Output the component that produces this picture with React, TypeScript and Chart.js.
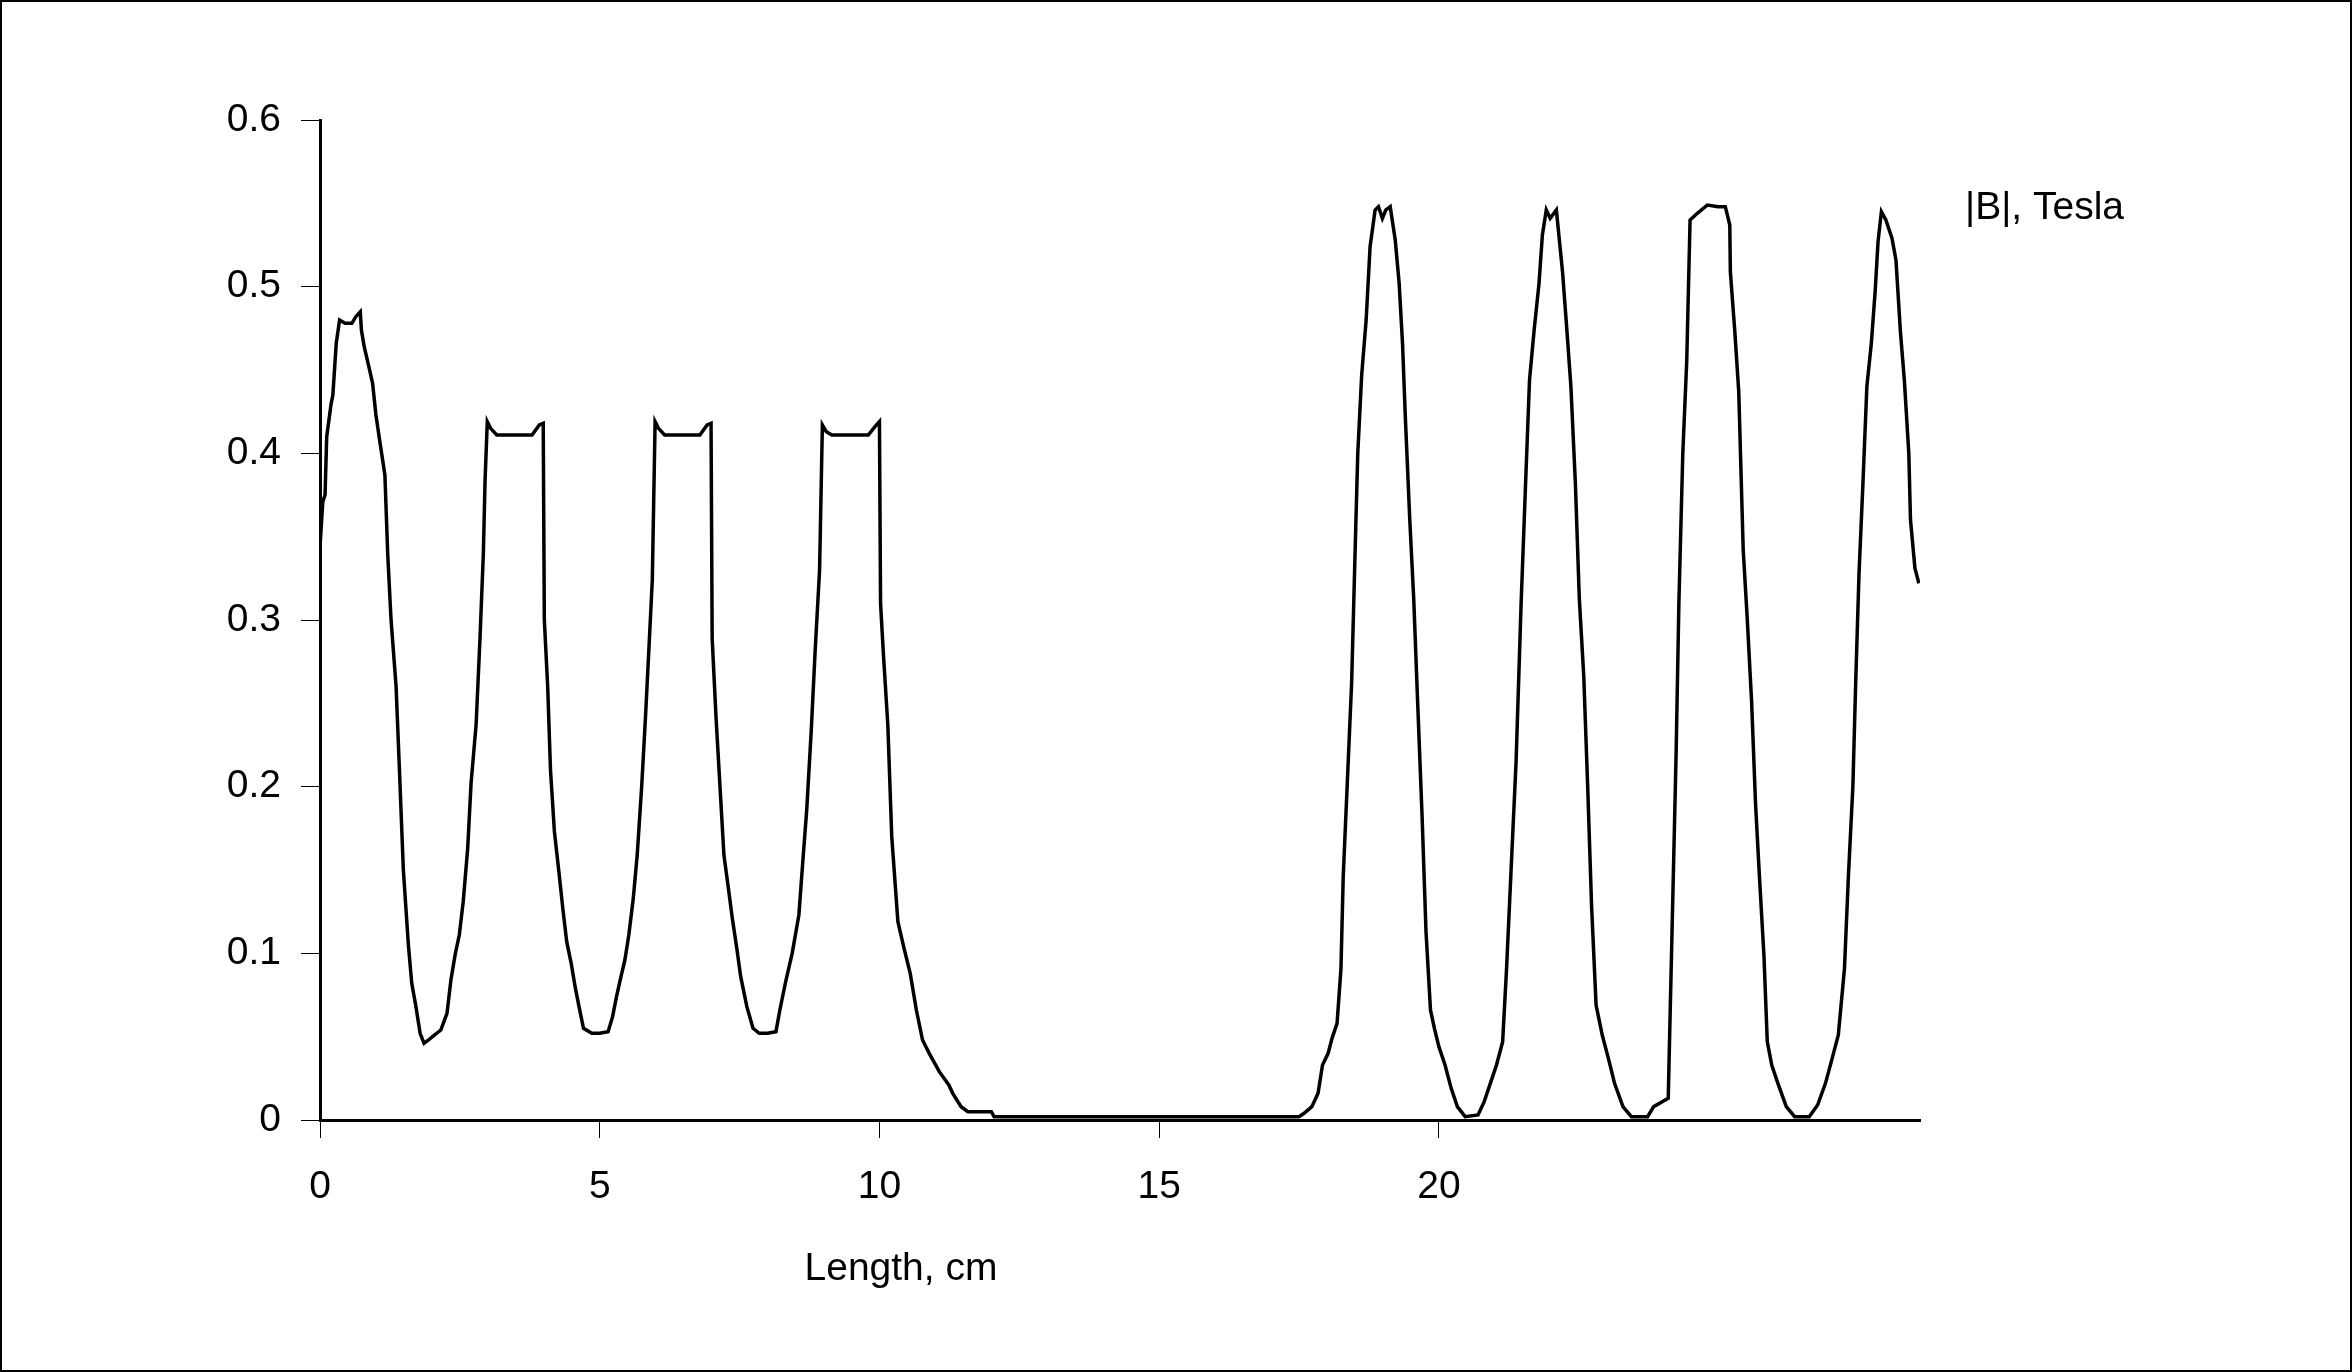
import React, { useEffect, useRef } from "react";
import { Chart, registerables } from "chart.js";

Chart.register(...registerables);

// Length along the device, cm
const lengthCm: number[] = [
  0.0, 0.05, 0.09, 0.12, 0.2, 0.23, 0.29, 0.35, 0.45, 0.57, 0.64, 0.72, 0.74, 0.79, 0.86, 0.94,
  1.0, 1.07, 1.16, 1.21, 1.27, 1.36, 1.42, 1.49, 1.58, 1.64, 1.71, 1.79, 1.86, 1.94,
  2.01, 2.16, 2.27, 2.34, 2.42, 2.49, 2.56, 2.64, 2.7, 2.79, 2.86, 2.92, 2.95, 2.99,
  3.05, 3.16, 3.5, 3.79, 3.92, 3.99,
  4.01, 4.07, 4.12, 4.19, 4.27, 4.34, 4.41, 4.49, 4.56, 4.63, 4.71, 4.86,
  5.0, 5.15, 5.23, 5.3, 5.38, 5.45, 5.52, 5.6, 5.67, 5.75, 5.82, 5.89, 5.94, 5.99,
  6.05, 6.16, 6.5, 6.79, 6.92, 6.99,
  7.01, 7.08, 7.15, 7.22, 7.3, 7.37, 7.45, 7.52, 7.63, 7.74, 7.85,
  8.0, 8.15, 8.22, 8.33, 8.44, 8.56, 8.63, 8.7, 8.78, 8.85, 8.93, 8.98,
  9.05, 9.15, 9.5, 9.8, 9.92, 10.0,
  10.02, 10.07, 10.15, 10.22, 10.33, 10.44, 10.55, 10.66, 10.77, 10.89,
  11.07, 11.24, 11.31, 11.46, 11.58, 12.0, 12.05,
  13.0, 14.0, 15.0, 16.0, 17.0, 17.5,
  17.59, 17.73, 17.84, 17.92, 18.02, 18.09, 18.18, 18.25, 18.29, 18.36, 18.44, 18.5, 18.55,
  18.62, 18.7, 18.77, 18.86, 18.92, 18.99, 19.05, 19.13, 19.22, 19.29, 19.35, 19.4, 19.48,
  19.55, 19.62, 19.7, 19.77, 19.85, 19.92, 20.0, 20.11, 20.22, 20.33, 20.47, 20.7, 20.81,
  20.92, 21.03, 21.14, 21.21, 21.3, 21.38, 21.47, 21.55, 21.62, 21.7, 21.79, 21.85, 21.92,
  21.99, 22.1, 22.21, 22.29, 22.36, 22.44, 22.51, 22.59, 22.66, 22.73, 22.81, 22.92, 23.03,
  23.14, 23.29, 23.44, 23.73, 23.84, 24.1, 24.14, 24.19, 24.24, 24.29, 24.36, 24.43, 24.49,
  24.62, 24.8, 24.99, 25.12, 25.2, 25.21, 25.29, 25.36, 25.44, 25.51, 25.59, 25.66, 25.73,
  25.81, 25.87, 25.95, 26.06, 26.21, 26.36, 26.62, 26.77, 26.91, 27.03, 27.14, 27.25, 27.32,
  27.4, 27.45, 27.51, 27.58, 27.65, 27.73, 27.8, 27.85, 27.91, 27.99, 28.1, 28.17, 28.25,
  28.32, 28.4, 28.43, 28.51, 28.58,
];

// |B|, Tesla
const fieldTesla: number[] = [
  0.344, 0.371, 0.375, 0.41, 0.43, 0.435, 0.466, 0.48, 0.478, 0.478, 0.482, 0.485, 0.474, 0.464, 0.454, 0.442,
  0.423, 0.407, 0.387, 0.34, 0.3, 0.26, 0.21, 0.15, 0.105, 0.082, 0.069, 0.052, 0.046, 0.048,
  0.05, 0.054, 0.064, 0.084, 0.1, 0.111, 0.131, 0.163, 0.202, 0.237, 0.289, 0.34, 0.383, 0.419,
  0.415, 0.411, 0.411, 0.411, 0.417, 0.418,
  0.3, 0.26, 0.21, 0.173, 0.149, 0.127, 0.107, 0.094, 0.08, 0.068, 0.055, 0.052,
  0.052, 0.053, 0.062, 0.074, 0.086, 0.096, 0.111, 0.133, 0.159, 0.2, 0.243, 0.29, 0.324, 0.419,
  0.415, 0.411, 0.411, 0.411, 0.417, 0.418,
  0.289, 0.241, 0.2, 0.159, 0.139, 0.121, 0.103, 0.086, 0.068, 0.055, 0.052,
  0.052, 0.053, 0.066, 0.084, 0.1, 0.123, 0.155, 0.186, 0.233, 0.281, 0.33, 0.417,
  0.413, 0.411, 0.411, 0.411, 0.416, 0.419,
  0.31, 0.28, 0.237, 0.17, 0.119, 0.103, 0.088, 0.066, 0.048, 0.04,
  0.029, 0.021, 0.016, 0.008, 0.005, 0.005, 0.002,
  0.002, 0.002, 0.002, 0.002, 0.002, 0.002,
  0.004, 0.008, 0.016, 0.033, 0.04, 0.049, 0.058, 0.091, 0.146, 0.2, 0.262, 0.338, 0.4,
  0.447, 0.48, 0.524, 0.546, 0.548, 0.541, 0.546, 0.548, 0.528, 0.502, 0.466, 0.422, 0.36,
  0.313, 0.251, 0.182, 0.113, 0.066, 0.055, 0.044, 0.033, 0.019, 0.008, 0.002, 0.003, 0.011,
  0.022, 0.033, 0.047, 0.091, 0.157, 0.215, 0.31, 0.382, 0.444, 0.473, 0.502, 0.531, 0.546,
  0.541, 0.546, 0.509, 0.473, 0.44, 0.382, 0.313, 0.266, 0.2, 0.128, 0.069, 0.051, 0.037,
  0.022, 0.008, 0.002, 0.002, 0.008, 0.013, 0.073, 0.146, 0.219, 0.31, 0.4, 0.455, 0.54,
  0.544, 0.549, 0.548, 0.548, 0.537, 0.509, 0.473, 0.437, 0.342, 0.302, 0.251, 0.19, 0.146,
  0.099, 0.047, 0.033, 0.022, 0.008, 0.002, 0.002, 0.009, 0.022, 0.037, 0.051, 0.091, 0.146,
  0.2, 0.262, 0.328, 0.382, 0.44, 0.466, 0.498, 0.527, 0.545, 0.54, 0.529, 0.516, 0.473,
  0.444, 0.4, 0.36, 0.331, 0.322,
];

const seriesLabel = "|B|, Tesla";
const xAxisTitle = "Length, cm";
const xTickValues: number[] = [0, 5, 10, 15, 20];
const yTickStep = 0.1;
const xRange: [number, number] = [0, 28.6];
const yRange: [number, number] = [0, 0.6];

const FONT = "'Liberation Sans', Arial, sans-serif";
const W = 2352;
const H = 1372;

const decor = {
  id: "decor",
  beforeDraw(chart: any) {
    const ctx = chart.ctx;
    ctx.save();
    ctx.fillStyle = "#ffffff";
    ctx.fillRect(0, 0, chart.width, chart.height);
    ctx.restore();
  },
  afterDraw(chart: any) {
    const ctx = chart.ctx;
    ctx.save();
    ctx.strokeStyle = "#000000";
    ctx.lineWidth = 2;
    ctx.strokeRect(1, 1, chart.width - 2, chart.height - 2);
    ctx.fillStyle = "#000000";
    ctx.font = `39px ${FONT}`;
    ctx.textBaseline = "alphabetic";
    ctx.textAlign = "center";
    ctx.fillText(xAxisTitle, 901, 1280);
    ctx.textAlign = "left";
    ctx.fillText(seriesLabel, 1965, 219);
    ctx.restore();
  },
};

export default function App() {
  const ref = useRef<HTMLCanvasElement | null>(null);

  useEffect(() => {
    if (!ref.current) return;
    const points = lengthCm.map((x, i) => ({ x, y: fieldTesla[i] }));
    const chart = new Chart(ref.current, {
      type: "line",
      data: {
        datasets: [
          {
            label: seriesLabel,
            data: points,
            borderColor: "#000000",
            borderWidth: 3.5,
            pointRadius: 0,
            tension: 0,
            fill: false,
          },
        ],
      },
      options: {
        animation: false,
        responsive: false,
        devicePixelRatio: 1,
        layout: { padding: { top: 120, right: 432, left: 0, bottom: 0 } },
        plugins: {
          legend: { display: false },
          tooltip: { enabled: false },
          title: { display: false },
        },
        scales: {
          x: {
            type: "linear",
            min: xRange[0],
            max: xRange[1],
            afterFit: (scale: any) => {
              scale.height = 252;
            },
            afterBuildTicks: (scale: any) => {
              scale.ticks = xTickValues.map((v) => ({ value: v }));
            },
            ticks: {
              includeBounds: false,
              color: "#000000",
              font: { family: FONT, size: 39 },
              padding: 26,
              maxRotation: 0,
              autoSkip: false,
              callback: (v: any) => String(v),
            },
            grid: {
              drawOnChartArea: false,
              drawTicks: true,
              tickLength: 18,
              color: "#000000",
              lineWidth: 1,
            },
            border: { display: true, color: "#000000", width: 3 },
          },
          y: {
            type: "linear",
            min: yRange[0],
            max: yRange[1],
            afterFit: (scale: any) => {
              scale.width = 320;
            },
            ticks: {
              stepSize: yTickStep,
              color: "#000000",
              font: { family: FONT, size: 39 },
              padding: 20,
              callback: (v: any) => String(Math.round(Number(v) * 10) / 10),
            },
            grid: {
              drawOnChartArea: false,
              drawTicks: true,
              tickLength: 19,
              color: "#000000",
              lineWidth: 1,
            },
            border: { display: true, color: "#000000", width: 3 },
          },
        },
      },
      plugins: [decor],
    });
    return () => chart.destroy();
  }, []);

  return (
    <div style={{ position: "fixed", left: 0, top: 0, width: W, height: H, background: "#fff" }}>
      <canvas ref={ref} width={W} height={H} style={{ display: "block", width: W, height: H }} />
    </div>
  );
}
